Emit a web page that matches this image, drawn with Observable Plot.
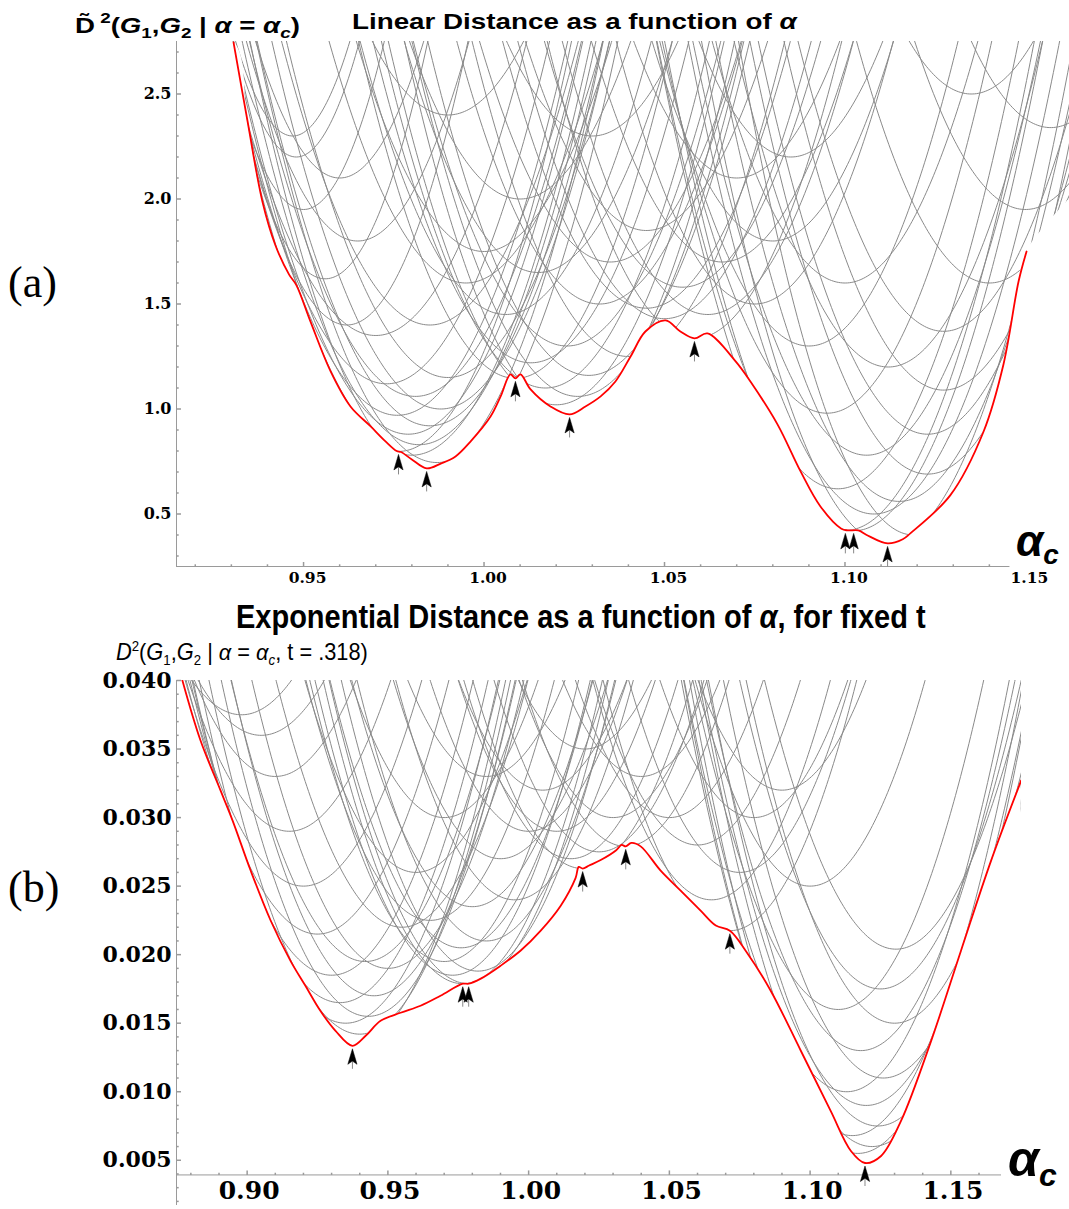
<!DOCTYPE html>
<html><head><meta charset="utf-8">
<script src="https://cdn.jsdelivr.net/npm/d3@7"></script>
<script src="https://cdn.jsdelivr.net/npm/@observablehq/plot@0.6"></script>
<style>
body{margin:0;background:#fff;}
#root{position:relative;width:1069px;height:1209px;overflow:hidden;background:#fff;}
#root > svg{position:absolute;left:0;}
</style></head><body><div id="root"></div>
<script>
// ---------- Panel (a): linear distance ----------
const aCurveCenter = [0.9763,0.9841,0.9800,0.9870,0.9820,0.9790,0.9850,0.9760,0.9880,0.9810,0.9730,0.9900,0.9700,
  0.9560,0.9500,0.9480,0.9470,0.9620,0.9650,0.9600,0.9900,0.9850,0.9950,
  1.0087,1.0237,1.0200,1.0260,1.0170,1.0290,1.0130,1.0230,1.0060,1.0320,1.0000,1.0100,1.0150,1.0350,1.0300,1.0400,
  1.0583,1.0500,1.0620,1.0550,1.0660,1.0450,1.0700,1.0450,1.0750,1.0800,1.0850,
  1.1001,1.1024,1.1118,1.1190,1.1080,1.1150,1.0980,1.1229,1.1060,1.1229,1.0950,1.1273,1.1120,1.1273,1.0900,1.1400,1.1500,1.1570,1.1000,1.1350];
const aCurveMin = [0.798,0.717,0.78,0.745,0.83,0.88,0.92,0.97,1.00,1.06,1.12,1.15,1.35,
  1.62,1.95,2.20,2.30,1.40,1.80,2.10,2.40,1.40,1.60,
  1.146,0.974,1.02,1.06,1.10,1.16,1.22,1.30,1.45,1.50,1.75,2.00,1.65,1.70,2.30,1.25,
  1.336,1.43,1.45,1.58,1.70,1.85,2.10,1.48,1.50,1.80,2.20,
  0.422,0.42,0.36,0.40,0.50,0.56,0.62,0.69,0.78,0.88,0.98,1.09,1.20,1.37,1.30,1.60,1.95,2.34,1.60,2.50];
const aCurveWidth = [850,850,800,800,800,800,800,800,800,800,800,800,800,
  1400,1600,1800,1800,1200,1000,1200,800,800,800,
  850,850,800,800,800,800,800,800,800,800,800,800,800,800,800,800,
  850,800,800,800,800,800,800,800,850,850,850,
  850,850,900,1000,850,850,850,850,850,850,850,850,850,850,850,850,850,850,850,850];
const aRedX = [0.9306,0.9345,0.9386,0.9422,0.9460,0.9480,0.9519,0.9575,0.9630,0.9686,0.9727,0.9758,0.9770,0.9800,0.9841,0.9880,0.9921,0.9963,1.0018,1.0046,1.0073,1.0087,1.0101,1.0129,1.0184,1.0237,1.0281,1.0323,1.0364,1.0406,1.0447,1.0503,1.0544,1.0583,1.0619,1.0697,1.0738,1.0813,1.0877,1.0932,1.0990,1.1007,1.1037,1.1060,1.1118,1.1160,1.1181,1.1292,1.1384,1.1439,1.1481,1.1503];
const aRedY = [2.746,2.369,1.988,1.78,1.64,1.59,1.417,1.179,1.012,0.917,0.846,0.80,0.795,0.76,0.717,0.74,0.774,0.846,0.964,1.06,1.165,1.146,1.165,1.093,1.012,0.974,1.012,1.06,1.131,1.25,1.369,1.422,1.369,1.336,1.36,1.227,1.131,0.927,0.703,0.536,0.43,0.422,0.422,0.40,0.36,0.38,0.408,0.59,0.893,1.212,1.608,1.75];
const aArrowX = [0.9763,0.9841,1.0087,1.0237,1.0583,1.1001,1.1024,1.1118];
const aArrowY = [0.798,0.717,1.146,0.974,1.336,0.422,0.422,0.36];
const aXTickLabels = [0.95,1.00,1.05,1.10,1.15];
const aYTickLabels = [0.5,1.0,1.5,2.0,2.5];

// ---------- Panel (b): exponential distance ----------
const bCurveCenter = [0.9374,0.9400,0.9350,0.9430,0.9330,0.9450,0.9300,0.9420,0.9250,0.9200,0.9150,0.9100,0.9050,0.8980,0.9500,0.9550,
  0.9766,0.9787,0.9730,0.9820,0.9700,0.9760,0.9850,0.9650,0.9800,0.9600,0.9900,0.9700,0.9950,0.9850,
  1.0192,1.0345,1.0150,1.0250,1.0100,1.0300,1.0050,1.0400,1.0200,1.0000,1.0500,
  1.0715,1.0650,1.0750,1.0600,1.0800,1.0900,1.1000,
  1.1195,1.1170,1.1220,1.1150,1.1240,1.1200,1.1130,1.1260,1.1180,1.1300,1.1250,1.1305,1.1100];
const bCurveMin = [0.01335,0.0142,0.0150,0.0155,0.0165,0.0170,0.0185,0.0195,0.0215,0.0250,0.0290,0.0330,0.0360,0.0375,0.0190,0.0220,
  0.01788,0.01788,0.0185,0.0188,0.0195,0.0205,0.0210,0.0225,0.0235,0.0260,0.0270,0.0300,0.0240,0.0330,
  0.02628,0.0279,0.0270,0.0275,0.0290,0.0300,0.0320,0.0330,0.0350,0.0290,0.0300,
  0.02175,0.0240,0.0260,0.0280,0.0300,0.0320,0.0250,
  0.0048,0.0055,0.0060,0.0068,0.0075,0.0090,0.0100,0.0110,0.0130,0.0150,0.0175,0.0204,0.0160];
const bCurveWidth = [9,9,8.5,9,8.5,9,8.5,9,8.5,8.5,8.5,8.5,8,8,9,9,
  9,9,9,9,9,9,9,9,9,9,9,9,9,9,
  9,9,9,9,9,9,9,9,9,9,9,
  9,9,9,9,9,9,9,
  9.06,9,9,9,9,9,9,9,9,9,9,9,9];
const bRedX = [0.8770,0.8834,0.8905,0.8948,0.9012,0.9083,0.9154,0.9207,0.9260,0.9314,0.9374,0.9421,0.9474,0.9545,0.9616,0.9687,0.9766,0.9787,0.9830,0.9901,0.9972,1.0043,1.0114,1.0167,1.0178,1.0192,1.0215,1.0256,1.0310,1.0330,1.0345,1.0365,1.0398,1.0469,1.0540,1.0611,1.0665,1.0715,1.0771,1.0860,1.0967,1.1073,1.1145,1.1195,1.1252,1.1323,1.1430,1.1536,1.1643,1.1750];
const bRedY = [0.0400,0.03564,0.0320,0.0298,0.02616,0.02251,0.01955,0.01773,0.01591,0.01444,0.01335,0.01408,0.01517,0.01576,0.01627,0.0170,0.01788,0.01788,0.01825,0.0192,0.0203,0.02175,0.02357,0.02560,0.02640,0.02628,0.02650,0.02690,0.02760,0.02800,0.02790,0.02815,0.0279,0.02613,0.02467,0.02321,0.02212,0.02175,0.02029,0.01737,0.01299,0.0086,0.00568,0.0048,0.00531,0.00787,0.01371,0.02029,0.02686,0.03271];
const bArrowX = [0.9374,0.9766,0.9787,1.0192,1.0345,1.0715,1.1195];
const bArrowY = [0.01335,0.01788,0.01788,0.02628,0.02790,0.02175,0.0048];
const bXTickLabels = [0.90,0.95,1.00,1.05,1.10,1.15];
const bYTickLabels = [0.005,0.010,0.015,0.020,0.025,0.030,0.035,0.040];

// ---------- helpers ----------
function curveTable(cs, ms, ks, x0, x1, yLimit) {
  const n = 500, rows = [];
  cs.forEach((c, i) => {
    for (let j = 0; j < n; j++) {
      const x = x0 + (x1 - x0) * j / (n - 1);
      const y = ms[i] + ks[i] * (x - c) * (x - c);
      if (y <= yLimit) rows.push({x, y, id: i});
    }
  });
  return rows;
}
const zip = (xs, ys) => xs.map((x, i) => ({x, y: ys[i]}));
const tickUp = len => ({draw(ctx){ctx.moveTo(0,0);ctx.lineTo(0,-len);}});
const tickRight = len => ({draw(ctx){ctx.moveTo(0,0);ctx.lineTo(len,0);}});
const arrowHead = {draw(ctx){ctx.moveTo(0,0);ctx.lineTo(4.6,15.5);ctx.lineTo(0,12.3);ctx.lineTo(-4.6,15.5);ctx.closePath();}};
const arrowStem = {draw(ctx){ctx.moveTo(0,11);ctx.lineTo(0,20);}};
const minorTicks = (a, b, step, major) => d3.range(Math.round(a/step), Math.round(b/step)+1).map(i => +(i*step).toFixed(4)).filter(v => Math.abs(v/major - Math.round(v/major)) > 1e-6);
const serif = "DejaVu Serif, serif";
const axisColor = "#9a9a9a";

function panel(o) {
  const gray = curveTable(o.cc, o.cm, o.ck, o.xd[0], o.xd[1], o.yd[1] * 1.6);
  const red = zip(o.rx, o.ry);
  const mask = [{x: o.xd[0], y: o.yd[1]}, ...red];
  if (o.maskEnd !== undefined) mask.push({x: o.xd[1], y: o.maskEnd});
  const arrows = zip(o.ax, o.ay);
  return Plot.plot({
    width: 1069, height: o.height,
    marginLeft: 176, marginRight: o.mr, marginTop: o.mt, marginBottom: o.mb,
    x: {domain: o.xd, axis: null}, y: {domain: o.yd, axis: null},
    marks: [
      Plot.line(gray, {x: "x", y: "y", z: "id", stroke: "#8a8a8a", strokeWidth: 1, clip: true}),
      Plot.areaY(mask, {x: "x", y1: "y", y2: o.yd[0], fill: "white", curve: "catmull-rom", clip: true}),
      Plot.line(red, {x: "x", y: "y", stroke: "#ff0000", strokeWidth: 1.8, curve: "catmull-rom", clip: true}),
      Plot.ruleX([o.xd[0]], {y1: o.yd[0], y2: o.yd[1], stroke: axisColor}),
      Plot.ruleY([o.xAxisY], {x1: o.xd[0], x2: o.xAxisEnd, stroke: axisColor}),
      Plot.dot(o.xMajor, {x: d => d, y: o.xAxisY, symbol: tickUp(4.5), stroke: axisColor, fill: "none"}),
      Plot.dot(o.xMinor, {x: d => d, y: o.xAxisY, symbol: tickUp(2.2), stroke: axisColor, fill: "none"}),
      Plot.dot(o.yMajor, {x: o.xd[0], y: d => d, symbol: tickRight(4.5), stroke: axisColor, fill: "none"}),
      Plot.dot(o.yMinor, {x: o.xd[0], y: d => d, symbol: tickRight(2.2), stroke: axisColor, fill: "none"}),
      Plot.text(o.xLabels, {x: d => d, y: o.xAxisY, dy: o.xLabelDy, dx: o.xLabelDx, text: d => d.toFixed(2), fontSize: o.xFont, fontFamily: serif, fontWeight: "bold", fill: "black"}),
      Plot.text(o.yLabels, {x: o.xd[0], y: d => d, dx: -5, text: d => d.toFixed(o.yDigits), textAnchor: "end", fontSize: o.yFont, fontFamily: serif, fontWeight: "bold", fill: "black"}),
      Plot.dot(arrows, {x: "x", y: "y", dy: 3, symbol: arrowStem, stroke: "#888", strokeWidth: 1, fill: "none"}),
      Plot.dot(arrows, {x: "x", y: "y", dy: 3, symbol: arrowHead, fill: "black", stroke: "black", strokeWidth: 0.5})
    ]
  });
}

const root = document.getElementById("root");
const plotA = panel({
  height: 600, mr: 0, mt: 41, mb: 34,
  xd: [0.9148, 1.1622], yd: [0.25, 2.75], maskEnd: 2.0,
  cc: aCurveCenter, cm: aCurveMin, ck: aCurveWidth,
  rx: aRedX, ry: aRedY, ax: aArrowX, ay: aArrowY,
  xAxisY: 0.25, xAxisEnd: 1.1457,
  xMajor: [0.95, 1.00, 1.05, 1.10], xMinor: minorTicks(0.92, 1.14, 0.01, 0.05),
  yMajor: aYTickLabels, yMinor: minorTicks(0.3, 2.7, 0.1, 0.5),
  xLabels: aXTickLabels, xLabelDy: 12, xLabelDx: 4, xFont: 15.5,
  yLabels: aYTickLabels, yDigits: 1, yFont: 16
});
plotA.style.top = "0px";
root.appendChild(plotA);

const plotB = panel({
  height: 569, mr: 48, mt: 40, mb: 4,
  xd: [0.8749, 1.1751], yd: [0.0017, 0.040],
  cc: bCurveCenter, cm: bCurveMin, ck: bCurveWidth,
  rx: bRedX, ry: bRedY, ax: bArrowX, ay: bArrowY,
  xAxisY: 0.00393, xAxisEnd: 1.168,
  xMajor: bXTickLabels, xMinor: minorTicks(0.88, 1.16, 0.01, 0.05),
  yMajor: bYTickLabels, yMinor: minorTicks(0.002, 0.039, 0.001, 0.005),
  xLabels: bXTickLabels, xLabelDy: 16, xLabelDx: 2, xFont: 25,
  yLabels: bYTickLabels, yDigits: 3, yFont: 22
});
plotB.style.top = "640px";
root.appendChild(plotB);

// ---------- titles and labels ----------
const ov = d3.select(root).append("svg").attr("width", 1069).attr("height", 1209)
  .style("position", "absolute").style("top", "0px").style("left", "0px").style("pointer-events", "none");
const sans = "Liberation Sans, Arial, Helvetica, sans-serif";
function rich(x, y, size, parts, opts = {}) {
  const t = ov.append("text").attr("x", 0).attr("y", 0).attr("font-family", sans)
    .attr("font-size", size).attr("font-weight", opts.weight || "bold").style("white-space", "pre").attr("fill", "black");
  parts.forEach(p => {
    const s = t.append("tspan").text(p.t);
    if (p.i) s.attr("font-style", "italic");
    if (p.s) s.attr("font-size", p.s);
    if (p.dy) s.attr("dy", p.dy);
  });
  let sx = 1;
  if (opts.len) {
    const w = t.node().getComputedTextLength();
    if (w > 0) sx = opts.len / w;
  }
  t.attr("transform", `translate(${x},${y}) scale(${sx},1)`);
  return t;
}
// (a) y label and title
rich(75, 33, 22, [
  {t: "D\u0303"}, {t: " 2", s: 15, dy: -10}, {t: "(", dy: 10}, {t: "G", i: 1}, {t: "1", s: 15, dy: 5},
  {t: ",", dy: -5}, {t: "G", i: 1}, {t: "2", s: 15, dy: 5}, {t: " | ", dy: -5}, {t: "\u03b1", i: 1},
  {t: " = "}, {t: "\u03b1", i: 1}, {t: "c", i: 1, s: 15, dy: 5}, {t: ")", dy: -5}
], {len: 225});
rich(352, 29, 22, [{t: "Linear Distance as a function of "}, {t: "\u03b1", i: 1}], {len: 445});
// (b) title and y label
rich(236, 628, 33, [{t: "Exponential Distance as a function of "}, {t: "\u03b1", i: 1}, {t: ", for fixed t"}], {len: 690});
rich(116, 660, 23, [
  {t: "D", i: 1}, {t: "2", s: 14, dy: -9}, {t: "(", dy: 9}, {t: "G", i: 1}, {t: "1", s: 14, dy: 5},
  {t: ",", dy: -5}, {t: "G", i: 1}, {t: "2", s: 14, dy: 5}, {t: " | ", dy: -5}, {t: "\u03b1", i: 1},
  {t: " = "}, {t: "\u03b1", i: 1}, {t: "c", i: 1, s: 14, dy: 5}, {t: ", t = .318)", dy: -5}
], {len: 252, weight: "normal"});
// panel tags
ov.append("text").attr("x", 8).attr("y", 297).attr("font-family", "Liberation Serif, Times New Roman, serif").attr("font-size", 44).text("(a)");
ov.append("text").attr("x", 8).attr("y", 902).attr("font-family", "Liberation Serif, Times New Roman, serif").attr("font-size", 44).text("(b)");
// axis labels alpha_c
rich(1016, 556, 44, [{t: "\u03b1", i: 1}, {t: "c", i: 1, s: 28, dy: 8}]);
rich(1008, 1176, 50, [{t: "\u03b1", i: 1}, {t: "c", i: 1, s: 32, dy: 10}]);
</script></body></html>
